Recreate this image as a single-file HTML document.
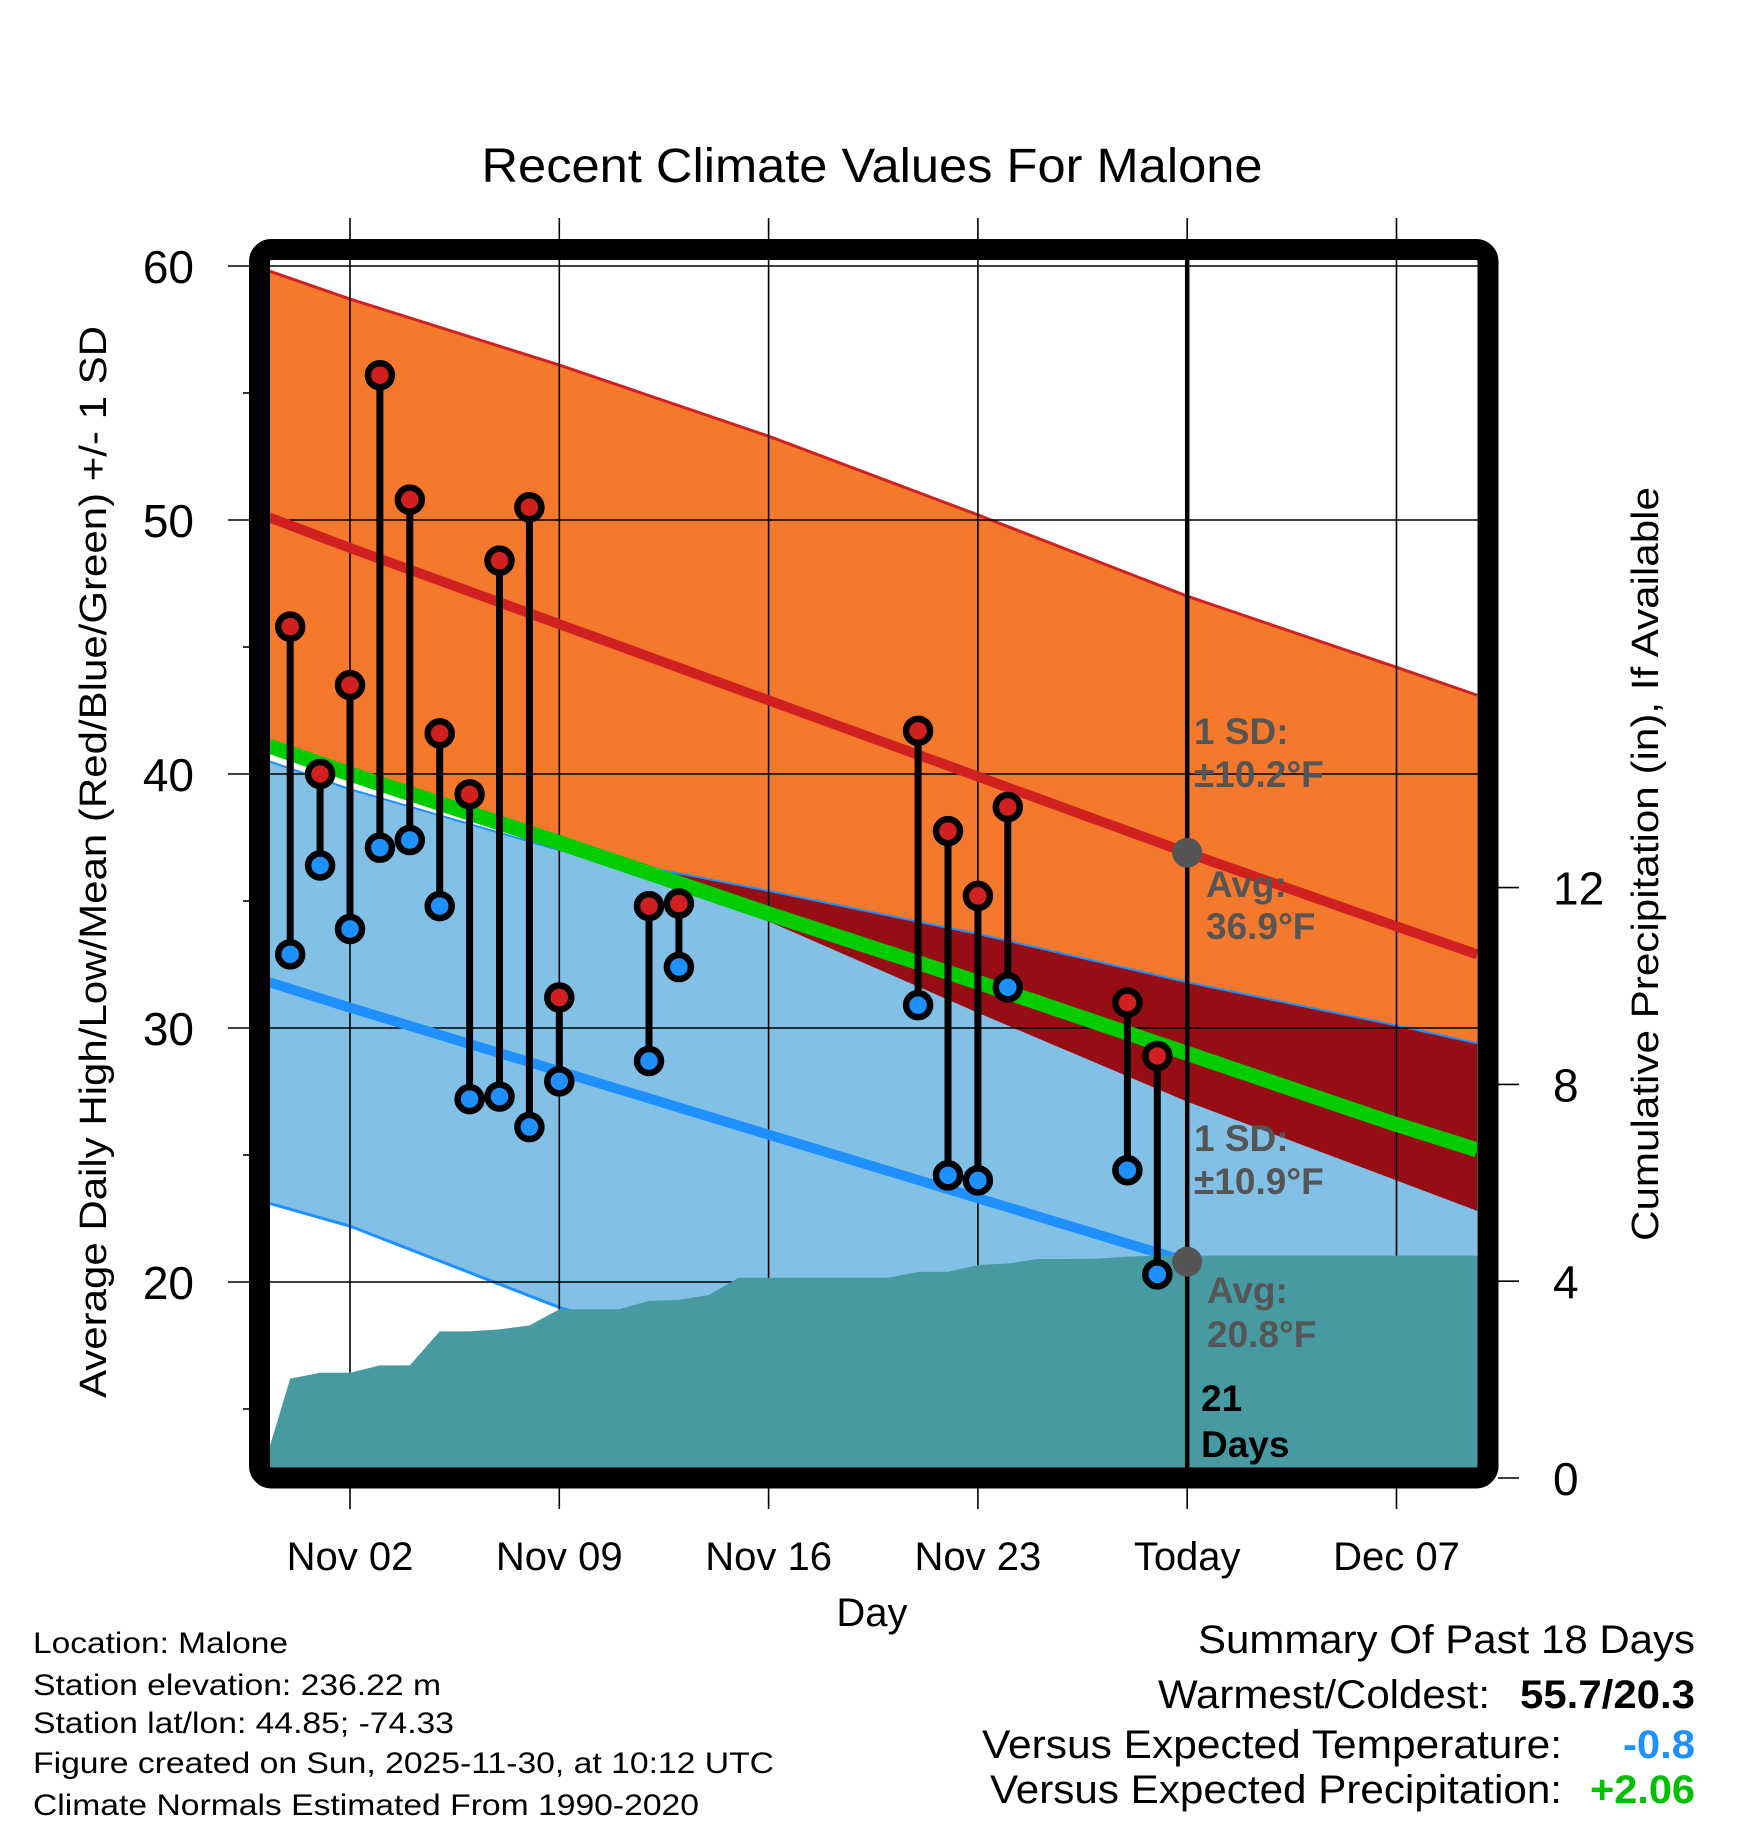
<!DOCTYPE html>
<html><head><meta charset="utf-8"><style>
html,body{margin:0;padding:0;background:#fff;}
svg{display:block;font-family:"Liberation Sans",Arial,sans-serif;}
</style></head><body>
<svg id="chart" width="1748" height="1828" viewBox="0 0 1748 1828" xmlns="http://www.w3.org/2000/svg">
<defs>
<clipPath id="plotclip"><rect x="259" y="249" width="1229" height="1229"/></clipPath>
</defs>
<g id="plot" clip-path="url(#plotclip)"></g>
<g id="axes"></g>
<g id="overlay"></g>
<rect x="259.5" y="249.5" width="1228.5" height="1228.5" rx="12" fill="none" stroke="#000" stroke-width="21"/>
<text x="872" y="182" font-size="48" text-anchor="middle" textLength="781" lengthAdjust="spacingAndGlyphs">Recent Climate Values For Malone</text>
<text transform="translate(106,862) rotate(-90)" font-size="38" text-anchor="middle" textLength="1072" lengthAdjust="spacingAndGlyphs">Average Daily High/Low/Mean (Red/Blue/Green) +/- 1 SD</text>
<text transform="translate(1658,864) rotate(-90)" font-size="38" text-anchor="middle" textLength="754" lengthAdjust="spacingAndGlyphs">Cumulative Precipitation (in), If Available</text>
<text x="872" y="1626" font-size="40" text-anchor="middle">Day</text>
<g font-size="30">
<text x="33" y="1653" textLength="255" lengthAdjust="spacingAndGlyphs">Location: Malone</text>
<text x="33" y="1695" textLength="408" lengthAdjust="spacingAndGlyphs">Station elevation: 236.22 m</text>
<text x="33" y="1733" textLength="421" lengthAdjust="spacingAndGlyphs">Station lat/lon: 44.85; -74.33</text>
<text x="33" y="1773" textLength="741" lengthAdjust="spacingAndGlyphs">Figure created on Sun, 2025-11-30, at 10:12 UTC</text>
<text x="33" y="1815" textLength="666" lengthAdjust="spacingAndGlyphs">Climate Normals Estimated From 1990-2020</text>
</g>
<g font-size="40">
<text x="1695" y="1653" text-anchor="end" textLength="497" lengthAdjust="spacingAndGlyphs">Summary Of Past 18 Days</text>
<text x="1158" y="1708" textLength="332" lengthAdjust="spacingAndGlyphs">Warmest/Coldest:</text>
<text x="1695" y="1708" text-anchor="end" font-weight="bold" textLength="175" lengthAdjust="spacingAndGlyphs">55.7/20.3</text>
<text x="982" y="1758" textLength="580" lengthAdjust="spacingAndGlyphs">Versus Expected Temperature:</text>
<text x="1695" y="1758" text-anchor="end" font-weight="bold" fill="#1e90ff" textLength="72" lengthAdjust="spacingAndGlyphs">-0.8</text>
<text x="990" y="1803" textLength="572" lengthAdjust="spacingAndGlyphs">Versus Expected Precipitation:</text>
<text x="1695" y="1803" text-anchor="end" font-weight="bold" fill="#00c000" textLength="105" lengthAdjust="spacingAndGlyphs">+2.06</text>
</g>
</svg>
<script>
// ---- data ----
const normDays = [-1.7, 1, 8, 15, 22, 29, 36, 38.7];
const highUpper = [59.8, 58.7, 56.1, 53.3, 50.2, 47.0, 44.2, 43.1];
const highMean  = [50.1, 48.9, 45.9, 42.9, 39.9, 36.9, 34.0, 32.9];
const highLower = [41.2, 40.2, 37.2, 34.2, 30.6, 27.1, 24.0, 22.8];
const lowUpper  = [40.5, 39.4, 37.0, 35.4, 33.7, 31.8, 30.1, 29.4];
const meanLine  = [41.1, 40.0, 37.3, 34.5, 31.8, 29.0, 26.2, 25.2];
const lowMean   = [31.8, 30.8, 28.3, 25.8, 23.3, 20.8, 18.3, 17.3];
const lowLower  = [23.1, 22.2, 19.0, 16.5, 14.0, 11.5, 9.0, 8.0];
const precipDays = [-2,-1,0,1,2,3,4,5,6,7,8,9,10,11,12,13,14,15,16,17,18,19,20,21,22,23,24,25,26,27,28,29,39];
const precipVals = [0,2.02,2.14,2.14,2.29,2.29,2.98,2.98,3.02,3.1,3.43,3.43,3.43,3.6,3.62,3.72,4.07,4.07,4.07,4.07,4.07,4.07,4.19,4.19,4.33,4.36,4.45,4.45,4.46,4.5,4.52,4.52,4.52];
const obsDays  = [-1,0,1,2,3,4,5,6,7,8,11,12,20,21,22,23,27,28];
const obsHigh  = [45.8,40.0,43.5,55.7,50.8,41.6,39.2,48.4,50.5,31.2,34.8,34.9,41.7,37.75,35.2,38.7,31.0,28.9];
const obsLow   = [32.9,36.4,33.9,37.1,37.4,34.8,27.2,27.3,26.1,27.9,28.7,32.4,30.9,24.2,24.0,31.6,24.4,20.3];
const xTickDays = [1, 8, 15, 22, 29, 36];
const xTickLabels = ["Nov 02","Nov 09","Nov 16","Nov 23","Today","Dec 07"];
const yTicks = [60, 50, 40, 30, 20];
const yMinor = [55, 45, 35, 25, 15];
const y2Ticks = [0, 4, 8, 12];
const todayDay = 29;
const avgHigh = 36.9, avgLow = 20.8;

// ---- scales ----
const X = d => 350 + (d - 1) * 29.9;
const Y = f => 266 + (60 - f) * 25.4;
const P = p => 1478 - p * 49.2;
const NS = "http://www.w3.org/2000/svg";
function mk(tag, attrs, parent){ const e=document.createElementNS(NS,tag); for(const k in attrs) e.setAttribute(k,attrs[k]); parent.appendChild(e); return e; }
const plot = document.getElementById('plot'), axes = document.getElementById('axes'), ov = document.getElementById('overlay');
const line = arr => normDays.map((d,i)=>X(d)+','+Y(arr[i])).join(' ');
const band = (a,b) => normDays.map((d,i)=>X(d)+','+Y(a[i])).concat(normDays.slice().reverse().map((d,i)=>X(d)+','+Y(b[normDays.length-1-i]))).join(' ');

let e;
e = mk('polygon',{points:band(highUpper,highLower),fill:'#f5792d'},plot);
 
e = mk('polygon',{points:band(lowUpper,lowLower),fill:'#82c0e6'},plot);
 
const defs = document.querySelector('defs');
const cp = mk('clipPath',{id:'orangeclip'},defs);
mk('polygon',{points:band(highUpper,highLower)},cp);
e = mk('polygon',{points:band(lowUpper,lowLower),fill:'#960d14','clip-path':'url(#orangeclip)'},plot);
 
e = mk('polyline',{points:line(highUpper),fill:'none',stroke:'#d02020','stroke-width':3},plot);
 
e = mk('polyline',{points:line(lowUpper),fill:'none',stroke:'#1e90ff','stroke-width':2},plot);
 
e = mk('polyline',{points:line(lowLower),fill:'none',stroke:'#1e90ff','stroke-width':3},plot);
 

// grid
xTickDays.forEach((d,i)=>{
  e = mk('line',{x1:X(d),x2:X(d),y1:218,y2:1509,stroke:'#000','stroke-width':1.6},axes);
   
  e = mk('text',{x:X(d),y:1570,'font-size':40,'text-anchor':'middle'},axes);
   
  e.textContent = xTickLabels[i];
});
yTicks.forEach(v=>{
  e = mk('line',{x1:228,x2:1478,y1:Y(v),y2:Y(v),stroke:'#000','stroke-width':1.6},axes);
   
  e = mk('text',{x:194,y:Y(v)+17,'font-size':46,'text-anchor':'end'},axes);
   
  e.textContent = v;
});
yMinor.forEach(v=>{
  e = mk('line',{x1:243,x2:250,y1:Y(v),y2:Y(v),stroke:'#000','stroke-width':1.6},axes);
   
});
y2Ticks.forEach(v=>{
  e = mk('line',{x1:1498,x2:1519,y1:P(v),y2:P(v),stroke:'#000','stroke-width':1.6},axes);
   
  e = mk('text',{x:1553,y:P(v)+17,'font-size':46},axes);
   
  e.textContent = v;
});
e = mk('polyline',{points:line(highMean),fill:'none',stroke:'#d02020','stroke-width':10},ov);
 
e = mk('polyline',{points:line(meanLine),fill:'none',stroke:'#00cc00','stroke-width':15},ov);
 
e = mk('polyline',{points:line(lowMean),fill:'none',stroke:'#1e90ff','stroke-width':10},ov);
 
ov.setAttribute('clip-path','url(#plotclip)');
// precipitation
const pp = precipDays.map((d,i)=>X(d)+','+P(precipVals[i])).concat([X(39)+','+P(0), X(-2)+','+P(0)]).join(' ');
e = mk('polygon',{points:pp,fill:'#489aa2'},ov);
 
// today line
e = mk('line',{x1:X(todayDay),x2:X(todayDay),y1:240,y2:1478,stroke:'#000','stroke-width':4.5},ov);
 
// observations
obsDays.forEach((d,i)=>{
  e = mk('line',{x1:X(d),x2:X(d),y1:Y(obsHigh[i]),y2:Y(obsLow[i]),stroke:'#000','stroke-width':7},ov);
   
  e = mk('circle',{cx:X(d),cy:Y(obsHigh[i]),r:12,fill:'#d02020',stroke:'#000','stroke-width':6.5},ov);
   
  e = mk('circle',{cx:X(d),cy:Y(obsLow[i]),r:12,fill:'#1e90ff',stroke:'#000','stroke-width':6.5},ov);
   
});
e = mk('circle',{cx:X(todayDay),cy:Y(avgHigh),r:15,fill:'#555'},ov);
 
e = mk('circle',{cx:X(todayDay),cy:Y(avgLow),r:15,fill:'#555'},ov);
 
// annotations
const ann = [
 ['1 SD:',1194,744,'#555','sd-high-label'],['±10.2°F',1194,787,'#555','sd-high-value'],
 ['Avg:',1206,897,'#555','avg-high-label'],['36.9°F',1206,939,'#555','avg-high-value'],
 ['1 SD:',1194,1151,'#555','sd-low-label'],['±10.9°F',1194,1194,'#555','sd-low-value'],
 ['Avg:',1207,1303,'#555','avg-low-label'],['20.8°F',1207,1347,'#555','avg-low-value'],
 ['21',1201,1411,'#000','days-count'],['Days',1201,1457,'#000','days-label']];
ann.forEach(a=>{
  e = mk('text',{x:a[1],y:a[2],fill:a[3],'font-size':37,'font-weight':'bold'},ov);
   
  e.textContent = a[0];
});
const svg = document.getElementById('chart');
svg.insertBefore(axes, ov);
</script>
</body></html>
